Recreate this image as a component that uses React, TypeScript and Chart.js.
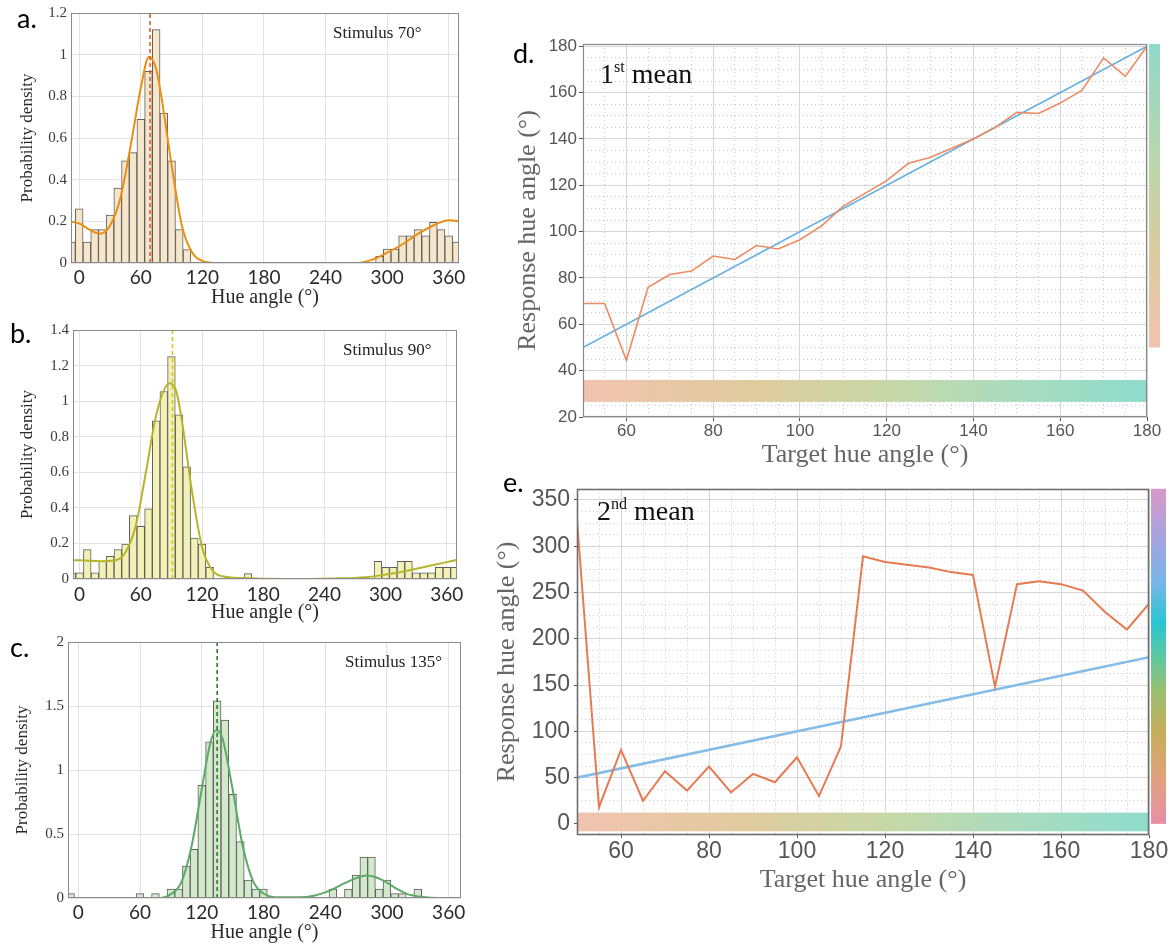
import React, { useEffect, useRef } from 'react';
import { Chart, registerables } from 'chart.js';

Chart.register(...registerables);

const SERIF = '"Liberation Serif", "Times New Roman", Times, serif';
const SANS = '"Liberation Sans", Arial, Helvetica, sans-serif';
const ROUND = 'Lato, "Open Sans", "Noto Sans", sans-serif';

// ---------------- histogram data ----------------
const hueTicks = [0, 60, 120, 180, 240, 300, 360];

// a. Stimulus 70°
const aBins = [-7.5, 0, 7.5, 15, 22.5, 30, 37.5, 45, 52.5, 60, 67.5, 75, 82.5, 90, 97.5, 105,
  292.5, 300, 307.5, 315, 322.5, 330, 337.5, 345, 352.5, 360, 367.5];
const aDensity = [0.1, 0.26, 0.1, 0.16, 0.16, 0.23, 0.36, 0.49, 0.53, 0.69, 0.92, 1.12, 0.72, 0.49, 0.16, 0.064,
  0.032, 0.067, 0.067, 0.13, 0.13, 0.16, 0.13, 0.195, 0.16, 0.13, 0.1];
const aCurveX = [-10, 0, 10, 20, 30, 40, 50, 60, 68, 75, 80, 90, 100, 110, 120, 135, 270, 285, 300, 315, 330, 345, 360, 372];
const aCurveY = [0.2, 0.19, 0.16, 0.14, 0.18, 0.31, 0.56, 0.84, 0.99, 0.93, 0.8, 0.47, 0.18, 0.05, 0.01, 0.0, 0.0, 0.015, 0.05, 0.09, 0.14, 0.18, 0.205, 0.2];
const aMean = 69;
const aYTicks = [0, 0.2, 0.4, 0.6, 0.8, 1, 1.2];

// b. Stimulus 90°
const bBins = [-7.5, 0, 7.5, 15, 22.5, 30, 37.5, 45, 52.5, 60, 67.5, 75, 82.5, 90, 97.5, 105, 112.5, 120, 127.5, 165,
  292.5, 300, 307.5, 315, 322.5, 330, 337.5, 345, 352.5, 360, 367.5];
const bDensity = [0.034, 0.034, 0.165, 0.034, 0.1, 0.127, 0.165, 0.197, 0.356, 0.296, 0.395, 0.89, 1.054, 1.25, 0.923, 0.63, 0.23, 0.197, 0.066, 0.03,
  0.1, 0.066, 0.066, 0.1, 0.1, 0.034, 0.034, 0.034, 0.066, 0.066, 0.066];
const bCurveX = [-10, 0, 20, 35, 45, 55, 65, 75, 88, 95, 100, 110, 120, 130, 140, 160, 200, 250, 280, 300, 320, 340, 360, 372];
const bCurveY = [0.105, 0.105, 0.1, 0.105, 0.15, 0.3, 0.6, 0.92, 1.1, 1.05, 0.9, 0.5, 0.18, 0.05, 0.015, 0.005, 0.0, 0.003, 0.01, 0.025, 0.045, 0.07, 0.095, 0.11];
const bMean = 91;
const bYTicks = [0, 0.2, 0.4, 0.6, 0.8, 1, 1.2, 1.4];

// c. Stimulus 135°
const cBins = [-7.5, 60, 75, 90, 97.5, 105, 112.5, 120, 127.5, 135, 142.5, 150, 157.5, 165, 172.5, 180,
  247.5, 262.5, 270, 277.5, 285, 292.5, 300, 307.5, 315, 330];
const cDensity = [0.034, 0.034, 0.034, 0.07, 0.07, 0.25, 0.38, 0.88, 1.22, 1.54, 1.39, 0.81, 0.44, 0.14, 0.07, 0.07,
  0.07, 0.07, 0.18, 0.32, 0.32, 0.07, 0.14, 0.034, 0.034, 0.07];
const cCurveX = [-12, 80, 90, 100, 110, 120, 128, 134, 140, 150, 160, 170, 180, 195, 215, 230, 245, 260, 270, 280, 290, 300, 310, 320, 335, 350, 374];
const cCurveY = [0, 0, 0.03, 0.12, 0.4, 0.85, 1.2, 1.31, 1.25, 0.85, 0.4, 0.13, 0.035, 0.005, 0.005, 0.02, 0.06, 0.12, 0.155, 0.175, 0.16, 0.12, 0.07, 0.03, 0.008, 0, 0];
const cMean = 135;
const cYTicks = [0, 0.5, 1, 1.5, 2];

// ---------------- response data ----------------
const targetAngles = [50, 55, 60, 65, 70, 75, 80, 85, 90, 95, 100, 105, 110, 115, 120, 125, 130, 135, 140, 145, 150, 155, 160, 165, 170, 175, 180];
const firstMean = [69, 69, 44.5, 76, 81.5, 83, 89.5, 88, 94, 92.5, 96.5, 102.5, 111, 116.5, 122, 129.5, 132, 136, 140, 145, 151.5, 151, 155.5, 161, 175, 167, 180];
const secondMean = [328, 18, 80, 25, 57, 36, 62, 34, 54, 45, 72, 30, 84, 289, 283, 280, 277, 272, 269, 148, 259, 262, 259, 252, 229, 210, 238];
const identityEnds = [50, 180];
const dXLabels = [60, 80, 100, 120, 140, 160, 180];
const dYLabels = [20, 40, 60, 80, 100, 120, 140, 160, 180];
const eXLabels = [60, 80, 100, 120, 140, 160, 180];
const eYLabels = [0, 50, 100, 150, 200, 250, 300, 350];

// ---------------- plugins ----------------
const framePlugin = (color: string, width: number) => ({
  id: 'frame',
  afterDatasetsDraw(chart: any) {
    const { ctx, chartArea: a } = chart;
    ctx.save();
    ctx.strokeStyle = color;
    ctx.lineWidth = width;
    const l = Math.round(a.left) + 0.5, t = Math.round(a.top) + 0.5;
    const r = Math.round(a.right) - 0.5, b = Math.round(a.bottom) - 0.5;
    ctx.strokeRect(l, t, r - l, b - t);
    ctx.restore();
  },
});

const bandStops: [number, string][] = [
  [0, '#f2c3b0'], [0.3, '#dfcb9e'], [0.55, '#c6d8a8'], [0.78, '#a9dcc0'], [1, '#8fdccc'],
];
const wheelStops: [number, string][] = [
  [0, '#e98fa6'], [0.13, '#e2a07e'], [0.27, '#c8ad5c'], [0.4, '#98c072'], [0.5, '#5cc8a2'],
  [0.6, '#28c6d2'], [0.72, '#78b6ea'], [0.85, '#a4a4e2'], [1, '#da97c8'],
];

const hueBandPlugin = (band: number[], barFrom: number, barWidth: number, barStops: [number, string][]) => ({
  id: 'hueBands',
  beforeDatasetsDraw(chart: any) {
    const { ctx, scales } = chart;
    const x = scales.x, y = scales.y;
    const x0 = x.getPixelForValue(x.min), x1 = x.getPixelForValue(x.max);
    const y0 = y.getPixelForValue(band[1]), y1 = y.getPixelForValue(band[0]);
    const g = ctx.createLinearGradient(x0, 0, x1, 0);
    bandStops.forEach(([o, c]) => g.addColorStop(o, c));
    ctx.save();
    ctx.fillStyle = g;
    ctx.fillRect(x0, y0, x1 - x0, y1 - y0);
    ctx.restore();
  },
  afterDraw(chart: any) {
    const { ctx, chartArea: a, scales } = chart;
    const y = scales.y;
    const top = y.getPixelForValue(y.max), bottom = y.getPixelForValue(barFrom);
    const g = ctx.createLinearGradient(0, bottom, 0, top);
    barStops.forEach(([o, c]) => g.addColorStop(o, c));
    ctx.save();
    ctx.fillStyle = g;
    ctx.fillRect(a.right + 2, top, barWidth, bottom - top);
    ctx.restore();
  },
});

// ---------------- config builders ----------------
type HistOpts = {
  bins: number[]; dens: number[]; cx: number[]; cy: number[]; mean: number;
  yTicks: number[]; xMin: number; xMax: number;
  fill: string; curve: string; dash: string;
  yWidth: number; xHeight: number; padTop: number; padRight: number; yTitlePad: number; xTickPad: number;
};

function histConfig(o: HistOpts): any {
  const yMax = o.yTicks[o.yTicks.length - 1];
  return {
    type: 'bar',
    data: {
      datasets: [
        {
          type: 'line', order: 1,
          data: [{ x: o.mean, y: 0 }, { x: o.mean, y: yMax }],
          borderColor: o.dash, borderWidth: 1.6, borderDash: [4, 3], pointRadius: 0,
        },
        {
          type: 'line', order: 2,
          data: o.cx.map((x, i) => ({ x, y: o.cy[i] })),
          borderColor: o.curve, borderWidth: 2, pointRadius: 0, tension: 0.4, cubicInterpolationMode: 'monotone',
        },
        {
          type: 'bar', order: 3,
          data: o.bins.map((x, i) => ({ x, y: o.dens[i] })),
          backgroundColor: o.fill, borderColor: '#5e5e5e', borderWidth: 1,
          barPercentage: 1, categoryPercentage: 1,
        },
      ],
    },
    options: {
      animation: false, responsive: false, maintainAspectRatio: false,
      layout: { padding: { top: o.padTop, right: o.padRight, left: 0, bottom: 0 } },
      plugins: { legend: { display: false }, tooltip: { enabled: false } },
      scales: {
        x: {
          type: 'linear', min: o.xMin, max: o.xMax, offset: false,
          afterBuildTicks: (s: any) => { s.ticks = hueTicks.map((v) => ({ value: v })); },
          afterFit: (s: any) => { s.height = o.xHeight; },
          grid: { color: '#e2e2e2', lineWidth: 1, drawTicks: false, offset: false },
          border: { display: false },
          ticks: { autoSkip: false, maxRotation: 0, padding: o.xTickPad, color: '#2a2a2a', font: { family: ROUND, size: 19 }, callback: (v: any) => String(v) },
          title: { display: true, text: 'Hue angle (°)', color: '#2a2a2a', padding: 0, font: { family: SERIF, size: 20 } },
        },
        y: {
          type: 'linear', min: 0, max: yMax,
          afterBuildTicks: (s: any) => { s.ticks = o.yTicks.map((v) => ({ value: v })); },
          afterFit: (s: any) => { s.width = o.yWidth; },
          grid: { color: '#e2e2e2', lineWidth: 1, drawTicks: false },
          border: { display: false },
          ticks: { autoSkip: false, padding: 4, color: '#3a3a3a', font: { family: SERIF, size: 15 }, callback: (v: any) => String(v) },
          title: { display: true, text: 'Probability density', color: '#2a2a2a', padding: { top: o.yTitlePad, bottom: 0 }, font: { family: SERIF, size: 17 } },
        },
      },
    },
    plugins: [framePlugin('#8a8a8a', 1)],
  };
}

type RespOpts = {
  response: number[]; yMin: number; yMax: number; yStep: number; yMinorStart: number;
  xLabels: number[]; yLabels: number[]; band: number[]; barFrom: number; barWidth: number; barStops: [number, string][];
  tickSize: number; titleSize: number; yWidth: number; xHeight: number; padTop: number; padRight: number; yTitlePad: number;
  tickLen: number; xTickPad: number; yTickPad: number;
  orange: string; orangeW: number; blue: string; blueW: number; frame: string; frameW: number;
};

function respConfig(o: RespOpts): any {
  const isMajorX = (v: number) => o.xLabels.includes(v) || v === 50;
  const isMajorY = (v: number) => o.yLabels.includes(v);
  const minorX: number[] = [];
  for (let v = 50; v <= 180; v += 5) minorX.push(v);
  const minorY: number[] = [];
  for (let v = o.yMinorStart; v <= o.yMax; v += o.yStep) minorY.push(v);
  return {
    type: 'line',
    data: {
      datasets: [
        {
          order: 1,
          data: targetAngles.map((x, i) => ({ x, y: o.response[i] })),
          borderColor: o.orange, borderWidth: o.orangeW, pointRadius: 0, tension: 0,
        },
        {
          order: 2,
          data: identityEnds.map((v) => ({ x: v, y: v })),
          borderColor: o.blue, borderWidth: o.blueW, pointRadius: 0, tension: 0,
        },
      ],
    },
    options: {
      animation: false, responsive: false, maintainAspectRatio: false,
      layout: { padding: { top: o.padTop, right: o.padRight, left: 0, bottom: 0 } },
      plugins: { legend: { display: false }, tooltip: { enabled: false } },
      scales: {
        x: {
          type: 'linear', min: 50, max: 180,
          afterBuildTicks: (s: any) => { s.ticks = minorX.map((v) => ({ value: v })); },
          afterFit: (s: any) => { s.height = o.xHeight; },
          grid: {
            lineWidth: 1, tickLength: o.tickLen,
            color: (c: any) => (c.tick && isMajorX(c.tick.value) ? '#d6d6d6' : '#c9c9c9'),
            tickColor: (c: any) => (c.tick && o.xLabels.includes(c.tick.value) ? '#555' : 'rgba(0,0,0,0)'),
          },
          border: { display: false, dash: (c: any) => (c.tick && !isMajorX(c.tick.value) ? [1, 3] : []) },
          ticks: {
            autoSkip: false, maxRotation: 0, padding: o.xTickPad, color: '#555', font: { family: SANS, size: o.tickSize },
            callback: (v: any) => (o.xLabels.includes(v) ? String(v) : ''),
          },
          title: { display: true, text: 'Target hue angle (°)', color: '#666', padding: 0, font: { family: SERIF, size: o.titleSize } },
        },
        y: {
          type: 'linear', min: o.yMin, max: o.yMax,
          afterBuildTicks: (s: any) => { s.ticks = minorY.map((v) => ({ value: v })); },
          afterFit: (s: any) => { s.width = o.yWidth; },
          grid: {
            lineWidth: 1, tickLength: o.tickLen,
            color: (c: any) => (c.tick && isMajorY(c.tick.value) ? '#d6d6d6' : '#c9c9c9'),
            tickColor: (c: any) => (c.tick && isMajorY(c.tick.value) ? '#555' : 'rgba(0,0,0,0)'),
          },
          border: { display: false, dash: (c: any) => (c.tick && !isMajorY(c.tick.value) ? [1, 3] : []) },
          ticks: {
            autoSkip: false, padding: o.yTickPad, color: '#555', font: { family: SANS, size: o.tickSize },
            callback: (v: any) => (o.yLabels.includes(v) ? String(v) : ''),
          },
          title: { display: true, text: 'Response hue angle (°)', color: '#666', padding: { top: o.yTitlePad, bottom: 0 }, font: { family: SERIF, size: 26 } },
        },
      },
    },
    plugins: [hueBandPlugin(o.band, o.barFrom, o.barWidth, o.barStops), framePlugin(o.frame, o.frameW)],
  };
}

// ---------------- components ----------------
function ChartBox({ left, top, width, height, make }: { left: number; top: number; width: number; height: number; make: () => any }) {
  const ref = useRef<HTMLCanvasElement | null>(null);
  useEffect(() => {
    const chart = new Chart(ref.current as HTMLCanvasElement, make());
    return () => chart.destroy();
  }, []);
  return (
    <canvas ref={ref} width={width} height={height}
      style={{ position: 'absolute', left, top, width, height, display: 'block' }} />
  );
}

const abs = (left: number, top: number, extra: React.CSSProperties = {}): React.CSSProperties => ({
  position: 'absolute', left, top, whiteSpace: 'nowrap', ...extra,
});

const panelLetter: React.CSSProperties = { fontFamily: ROUND, fontSize: 27, lineHeight: '27px', color: '#000' };
const stimText: React.CSSProperties = { fontFamily: SERIF, fontSize: 17, lineHeight: '17px', color: '#222' };
const meanText: React.CSSProperties = { fontFamily: SERIF, fontSize: 28, lineHeight: '28px', color: '#111' };
const supText: React.CSSProperties = { fontSize: 16, position: 'relative', top: -11 };

const dBarStops: [number, string][] = [[0, '#f2c2b0'], [0.3, '#dccb9e'], [0.6, '#bcd7ac'], [1, '#8fd8c8']];

export default function App() {
  return (
    <div style={{ position: 'absolute', left: 0, top: 0, width: 1172, height: 946, background: '#fff', overflow: 'hidden' }}>
      <ChartBox left={0} top={0} width={470} height={310} make={() => histConfig({
        bins: aBins, dens: aDensity, cx: aCurveX, cy: aCurveY, mean: aMean, yTicks: aYTicks, xMin: -8, xMax: 370,
        fill: '#f6e6cc', curve: '#ea8f12', dash: '#e0601c',
        yWidth: 71, xHeight: 47, padTop: 11, padRight: 11, yTitlePad: 17, xTickPad: 3,
      })} />
      <ChartBox left={0} top={310} width={470} height={315} make={() => histConfig({
        bins: bBins, dens: bDensity, cx: bCurveX, cy: bCurveY, mean: bMean, yTicks: bYTicks, xMin: -6.5, xMax: 370,
        fill: '#f3f1b6', curve: '#b7b42c', dash: '#d8c814',
        yWidth: 73, xHeight: 46, padTop: 20, padRight: 13, yTitlePad: 17, xTickPad: 4,
      })} />
      <ChartBox left={0} top={625} width={470} height={320} make={() => histConfig({
        bins: cBins, dens: cDensity, cx: cCurveX, cy: cCurveY, mean: cMean, yTicks: cYTicks, xMin: -10, xMax: 372,
        fill: '#d2eacb', curve: '#5caa68', dash: '#2f7a28',
        yWidth: 68, xHeight: 47, padTop: 17, padRight: 9, yTitlePad: 12, xTickPad: 3,
      })} />
      <ChartBox left={480} top={20} width={692} height={451} make={() => respConfig({
        response: firstMean, yMin: 20, yMax: 181, yStep: 5, yMinorStart: 20,
        xLabels: dXLabels, yLabels: dYLabels, band: [26.5, 36], barFrom: 50, barWidth: 11, barStops: dBarStops,
        tickSize: 17, titleSize: 26, yWidth: 103, xHeight: 54, padTop: 24, padRight: 25, yTitlePad: 33,
        tickLen: 4, xTickPad: 0, yTickPad: 2,
        orange: '#ee8a62', orangeW: 1.6, blue: '#6cb2e2', blueW: 1.6, frame: '#8a8a8a', frameW: 1.2,
      })} />
      <ChartBox left={480} top={471} width={692} height={425} make={() => respConfig({
        response: secondMean, yMin: -12, yMax: 362, yStep: 12.5, yMinorStart: 0,
        xLabels: eXLabels, yLabels: eYLabels, band: [-8, 12], barFrom: 0, barWidth: 15, barStops: wheelStops,
        tickSize: 23, titleSize: 26, yWidth: 97, xHeight: 61, padTop: 13, padRight: 23, yTitlePad: 12,
        tickLen: 3, xTickPad: 0, yTickPad: 4,
        orange: '#e87a52', orangeW: 2, blue: '#86bde6', blueW: 2.6, frame: '#6e6e6e', frameW: 1.6,
      })} />

      <div style={abs(17, 4, panelLetter)}>a.</div>
      <div style={abs(10, 319, panelLetter)}>b.</div>
      <div style={abs(10, 633, panelLetter)}>c.</div>
      <div style={abs(513, 39, panelLetter)}>d.</div>
      <div style={abs(503, 468, panelLetter)}>e.</div>

      <div style={abs(333, 24, stimText)}>Stimulus 70°</div>
      <div style={abs(343, 341, stimText)}>Stimulus 90°</div>
      <div style={abs(345, 653, stimText)}>Stimulus 135°</div>

      <div style={abs(600, 60, meanText)}>1<span style={supText}>st</span> mean</div>
      <div style={abs(597, 497, meanText)}>2<span style={supText}>nd</span> mean</div>
    </div>
  );
}
